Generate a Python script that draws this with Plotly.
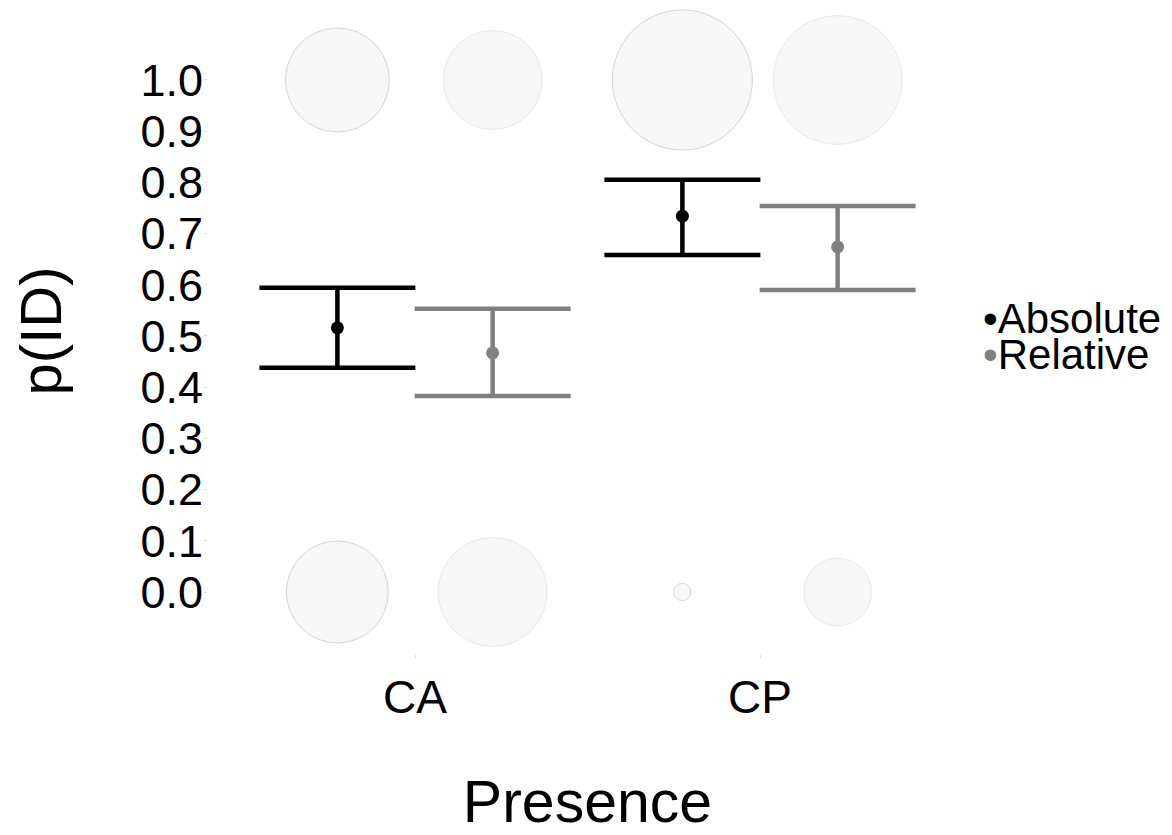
import plotly.graph_objects as go

# ---- data ----
categories = ["CA", "CP"]
groups = ["Absolute", "Relative"]

mean_abs = [0.516, 0.734]
upper_abs = [0.594, 0.805]
lower_abs = [0.438, 0.658]

mean_rel = [0.467, 0.674]
upper_rel = [0.553, 0.754]
lower_rel = [0.383, 0.590]

# response counts shown as bubbles at p(ID)=1 and p(ID)=0
count_abs_1 = [108, 196]
count_abs_0 = [104, 3]
count_rel_1 = [98, 166]
count_rel_0 = [119, 46]

tick_vals_y = [0.0, 0.1, 0.2, 0.3, 0.4, 0.5, 0.6, 0.7, 0.8, 0.9, 1.0]
tick_text_y = ["0.0", "0.1", "0.2", "0.3", "0.4", "0.5", "0.6", "0.7", "0.8", "0.9", "1.0"]

# ---- styles ----
FONT = "Liberation Sans, Arial, sans-serif"
DODGE = 0.225
colors = {"Absolute": "#000000", "Relative": "#808080"}
bubble_line = {"Absolute": "#c4c4c4", "Relative": "#e0e0e0"}
BUBBLE_FILL = "#f4f4f4"
SIZEREF = 0.02

base_x = list(range(1, len(categories) + 1))

series = {
    "Absolute": dict(mean=mean_abs, up=upper_abs, lo=lower_abs, c1=count_abs_1, c0=count_abs_0, off=-DODGE),
    "Relative": dict(mean=mean_rel, up=upper_rel, lo=lower_rel, c1=count_rel_1, c0=count_rel_0, off=DODGE),
}

fig = go.Figure()

# bubbles
for g in groups:
    s = series[g]
    xs = [b + s["off"] for b in base_x]
    for yv, cnt in ((1.0, s["c1"]), (0.0, s["c0"])):
        fig.add_trace(go.Scatter(
            x=xs, y=[yv] * len(xs), mode="markers",
            marker=dict(size=cnt, sizemode="area", sizeref=SIZEREF,
                        color=BUBBLE_FILL, line=dict(color=bubble_line[g], width=1)),
            cliponaxis=False, showlegend=False, hoverinfo="skip",
        ))

# means with error bars
for g in groups:
    s = series[g]
    xs = [b + s["off"] for b in base_x]
    plus = [u - m for u, m in zip(s["up"], s["mean"])]
    minus = [m - l for m, l in zip(s["mean"], s["lo"])]
    fig.add_trace(go.Scatter(
        x=xs, y=s["mean"], mode="markers", name=g,
        marker=dict(size=13, color=colors[g]),
        error_y=dict(type="data", array=plus, arrayminus=minus, symmetric=False,
                     color=colors[g], thickness=4.5, width=78),
        cliponaxis=False, showlegend=False,
    ))

# legend as text
fig.add_annotation(x=1.0, y=0.520, xref="paper", yref="paper", xanchor="left", yanchor="middle",
                   text="<span style='color:#000000'>•</span>Absolute", showarrow=False,
                   font=dict(family=FONT, size=42, color="#000000"), xshift=14)
fig.add_annotation(x=1.0, y=0.463, xref="paper", yref="paper", xanchor="left", yanchor="middle",
                   text="<span style='color:#808080'>•</span>Relative", showarrow=False,
                   font=dict(family=FONT, size=42, color="#000000"), xshift=14)

fig.update_layout(
    width=1164, height=827,
    margin=dict(l=200, r=205, t=0, b=181),
    paper_bgcolor="white", plot_bgcolor="white",
    font=dict(family=FONT, color="#000000"),
    showlegend=False,
    xaxis=dict(
        range=[0.4, 2.6], tickvals=base_x, ticktext=categories,
        tickfont=dict(size=46), showgrid=False, zeroline=False, showline=False,
        ticks="outside", ticklen=3, tickcolor="#e0e0e0",
        title=dict(text="Presence", font=dict(size=59), standoff=70),
        automargin=False,
    ),
    yaxis=dict(
        range=[-0.1211, 1.1406], tickvals=tick_vals_y, ticktext=tick_text_y,
        tickfont=dict(size=45), showgrid=False, zeroline=False, showline=False,
        ticks="outside", ticklen=3, tickcolor="#e0e0e0", ticklabelstandoff=-8,
        title=dict(text="p(ID)", font=dict(size=58), standoff=72),
        automargin=False,
    ),
)

fig.write_html("out.html")
